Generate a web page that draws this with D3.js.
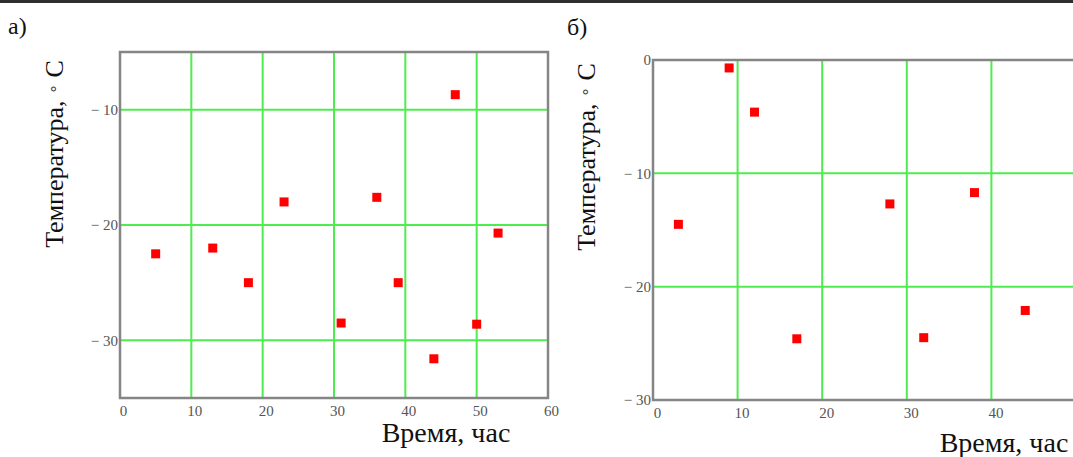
<!DOCTYPE html>
<html>
<head>
<meta charset="utf-8">
<script src="https://cdn.jsdelivr.net/npm/d3@7"></script>
<style>
  html, body { margin: 0; padding: 0; background: #fff; }
  svg { display: block; }
</style>
</head>
<body>
<svg id="container"></svg>
<script>
// panel a)
const timeA = [5, 13, 18, 23, 31, 36, 39, 44, 47, 50, 53]
const tempA = [-22.5, -22, -25, -18, -28.5, -17.6, -25, -31.6, -8.7, -28.6, -20.7]
const xTicksA = [0, 10, 20, 30, 40, 50, 60]
const yTicksA = [-10, -20, -30]

// panel b)
const timeB = [3, 9, 12, 17, 28, 32, 38, 44]
const tempB = [-14.5, -0.7, -4.6, -24.6, -12.7, -24.5, -11.7, -22.1]
const xTicksB = [0, 10, 20, 30, 40]
const yTicksB = [0, -10, -20, -30]

const W = 1073
const H = 457
const gridColor = '#4fec4f'
const frameColor = '#858585'
const serif = '"Liberation Serif", "Times New Roman", serif'

const svg = d3.select('#container').attr('width', W).attr('height', H)

// dark rule along the top of the page
svg.append('rect')
  .attr('x', 0).attr('y', 0).attr('width', W).attr('height', 3)
  .attr('fill', '#2e2e2e')

function fmt(d) {
  return d < 0 ? '\u2212 ' + Math.abs(d) : String(d)
}

function drawPanel(opt) {
  const x = d3.scaleLinear().domain(opt.xDomain).range([opt.left, opt.right])
  const y = d3.scaleLinear().domain(opt.yDomain).range([opt.bottom, opt.top])

  const g = svg.append('g')

  // grid
  g.selectAll('line.vgrid')
    .data(opt.xTicks.filter(d => d > opt.xDomain[0] && d < opt.xDomain[1]))
    .join('line')
    .attr('class', 'vgrid')
    .attr('x1', d => x(d)).attr('x2', d => x(d))
    .attr('y1', opt.top).attr('y2', opt.bottom)
    .attr('stroke', gridColor).attr('stroke-width', 2)

  g.selectAll('line.hgrid')
    .data(opt.yTicks.filter(d => d > opt.yDomain[0] && d < opt.yDomain[1]))
    .join('line')
    .attr('class', 'hgrid')
    .attr('x1', opt.left).attr('x2', opt.right)
    .attr('y1', d => y(d)).attr('y2', d => y(d))
    .attr('stroke', gridColor).attr('stroke-width', 2)

  // frame
  g.append('rect')
    .attr('x', opt.left).attr('y', opt.top)
    .attr('width', opt.right - opt.left).attr('height', opt.bottom - opt.top)
    .attr('fill', 'none')
    .attr('stroke', frameColor).attr('stroke-width', 2.5)

  // axes, only used for the tick labels
  const xAxis = d3.axisBottom(x).tickValues(opt.xTicks).tickSize(0).tickPadding(0).tickFormat(fmt)
  const gx = g.append('g')
    .attr('transform', `translate(0,${opt.bottom})`)
    .call(xAxis)
  gx.select('.domain').remove()
  gx.selectAll('.tick text')
    .attr('dy', null).attr('y', 18).attr('dx', opt.xLabelShift)
    .attr('font-family', serif).attr('font-size', 15).attr('fill', '#555')

  const yAxis = d3.axisLeft(y).tickValues(opt.yTicks).tickSize(0).tickPadding(2).tickFormat(fmt)
  const gy = g.append('g')
    .attr('transform', `translate(${opt.left},0)`)
    .call(yAxis)
  gy.select('.domain').remove()
  gy.selectAll('.tick text')
    .attr('font-family', serif).attr('font-size', 15).attr('fill', '#555')

  // points
  g.selectAll('rect.pt')
    .data(opt.time.map((t, i) => [t, opt.temp[i]]))
    .join('rect')
    .attr('class', 'pt')
    .attr('x', d => x(d[0]) - 4.5).attr('y', d => y(d[1]) - 4.5)
    .attr('width', 9).attr('height', 9)
    .attr('fill', '#ff0000')

  // axis titles
  g.append('text')
    .attr('x', opt.xTitle[0]).attr('y', opt.xTitle[1])
    .attr('text-anchor', 'middle')
    .attr('font-family', serif).attr('font-size', 28).attr('fill', '#111')
    .text('Время, час')

  const yt = g.append('text')
    .attr('transform', `translate(${opt.yTitle[0]},${opt.yTitle[1]}) rotate(-90)`)
    .attr('text-anchor', 'middle')
    .attr('font-family', serif).attr('font-size', 26).attr('fill', '#111')
  yt.append('tspan').text('Температура, ')
  yt.append('tspan').attr('font-size', 16).attr('fill', '#444').attr('dy', -4).text('\u2218')
  yt.append('tspan').attr('dy', 4).text(' C')

  g.append('text')
    .attr('x', opt.tag[0]).attr('y', opt.tag[1])
    .attr('font-family', serif).attr('font-size', 24).attr('fill', '#111')
    .text(opt.tagText)
}

drawPanel({
  left: 120, right: 548, top: 52, bottom: 398,
  xDomain: [0, 60], yDomain: [-35, -5],
  xTicks: xTicksA, yTicks: yTicksA,
  time: timeA, temp: tempA,
  xLabelShift: 3,
  xTitle: [446, 442], yTitle: [63, 154],
  tag: [8, 34], tagText: 'а)'
})

drawPanel({
  left: 653, right: 1076, top: 60, bottom: 400,
  xDomain: [0, 50], yDomain: [-30, 0],
  xTicks: xTicksB, yTicks: yTicksB,
  time: timeB, temp: tempB,
  xLabelShift: 4,
  xTitle: [1004, 452], yTitle: [595, 157],
  tag: [567, 35], tagText: 'б)'
})
</script>
</body>
</html>
